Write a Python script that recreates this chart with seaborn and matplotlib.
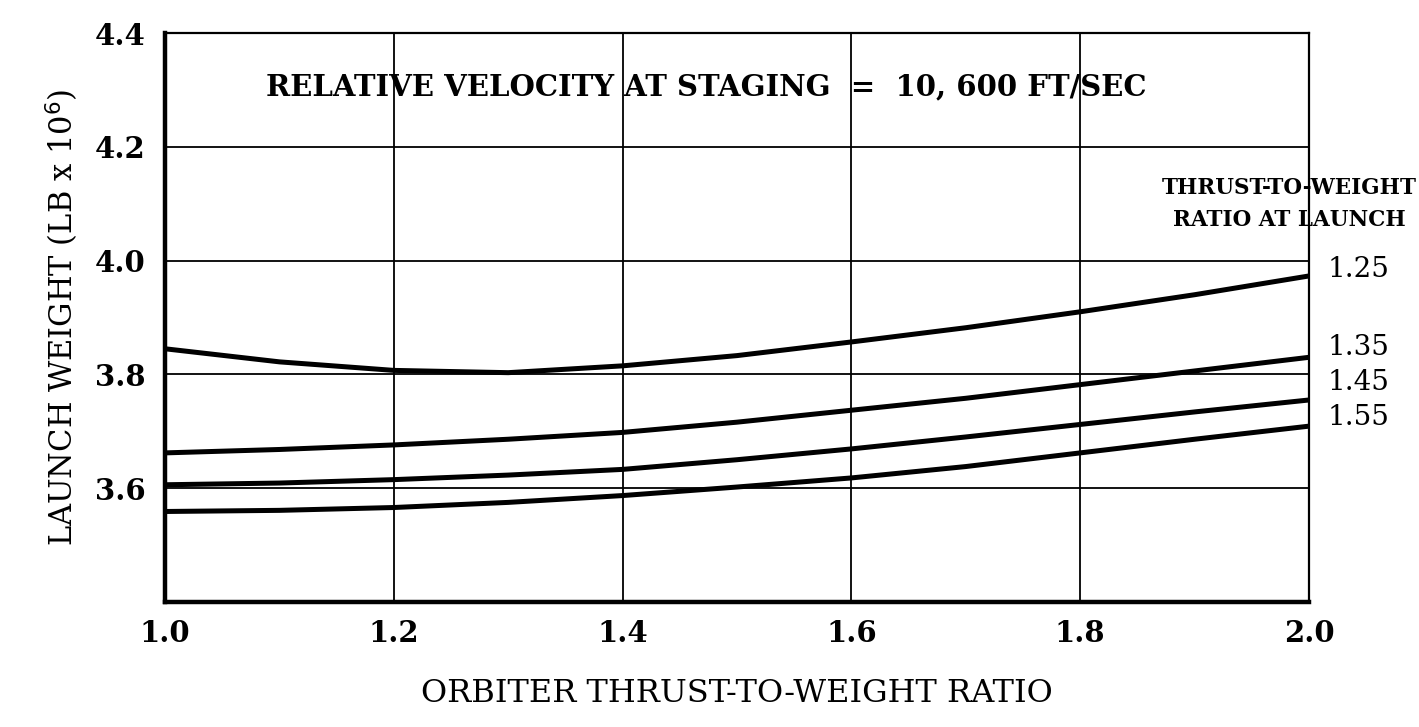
import pandas as pd
import seaborn as sns
import matplotlib
matplotlib.use("Agg")
import matplotlib.pyplot as plt

# Data
orbiter_tw = [1.0, 1.1, 1.2, 1.3, 1.4, 1.5, 1.6, 1.7, 1.8, 1.9, 2.0]
launch_tw = ["1.25", "1.35", "1.45", "1.55"]
weight_125 = [3.845, 3.822, 3.807, 3.803, 3.815, 3.833, 3.857, 3.882, 3.910, 3.940, 3.973]
weight_135 = [3.662, 3.668, 3.676, 3.686, 3.698, 3.716, 3.737, 3.758, 3.782, 3.806, 3.830]
weight_145 = [3.606, 3.609, 3.615, 3.623, 3.633, 3.650, 3.669, 3.690, 3.712, 3.734, 3.755]
weight_155 = [3.559, 3.561, 3.566, 3.575, 3.587, 3.602, 3.618, 3.638, 3.662, 3.686, 3.709]

x_ticks = [1.0, 1.2, 1.4, 1.6, 1.8, 2.0]
y_ticks = [3.6, 3.8, 4.0, 4.2, 4.4]

series = [weight_125, weight_135, weight_145, weight_155]
frames = []
for label, vals in zip(launch_tw, series):
    frames.append(pd.DataFrame({"orbiter": orbiter_tw, "weight": vals, "launch": label}))
df = pd.concat(frames, ignore_index=True)

sns.set_style("white")
plt.rcParams["font.family"] = ["DejaVu Serif"]
plt.rcParams["text.color"] = "black"
plt.rcParams["axes.labelcolor"] = "black"
plt.rcParams["xtick.color"] = "black"
plt.rcParams["ytick.color"] = "black"

fig = plt.figure(figsize=(14.19, 7.27), dpi=100)
ax = fig.add_axes([0.1163, 0.172, 0.8062, 0.7826])

sns.lineplot(
    data=df, x="orbiter", y="weight", hue="launch",
    palette=["black"] * 4, linewidth=3.6, legend=False, ax=ax,
)

ax.set_xlim(1.0, 2.0)
ax.set_ylim(3.4, 4.4)
ax.set_xticks(x_ticks)
ax.set_yticks(y_ticks)
ax.set_xticklabels([f"{t:.1f}" for t in x_ticks], fontsize=21, fontweight="bold")
ax.set_yticklabels([f"{t:.1f}" for t in y_ticks], fontsize=21, fontweight="bold")
ax.tick_params(axis="both", length=0)
ax.tick_params(axis="x", pad=12)
ax.tick_params(axis="y", pad=14)
ax.grid(True, color="black", linewidth=1.3)
ax.set_axisbelow(True)

for side in ["left", "bottom"]:
    ax.spines[side].set_linewidth(3.2)
for side in ["top", "right"]:
    ax.spines[side].set_linewidth(1.6)
for s in ax.spines.values():
    s.set_color("black")

ax.set_xlabel("ORBITER THRUST-TO-WEIGHT RATIO", fontsize=23, labelpad=22)
ax.set_ylabel("LAUNCH WEIGHT (LB x 10$^6$)", fontsize=22, labelpad=10)

ax.text(0.473, 4.305, "RELATIVE VELOCITY AT STAGING  =  10, 600 FT/SEC",
        transform=ax.get_yaxis_transform(), ha="center", va="center",
        fontsize=21, fontweight="bold")

ax.text(1.983, 4.10, "THRUST-TO-WEIGHT\nRATIO AT LAUNCH",
        ha="center", va="center", fontsize=15.5, fontweight="bold",
        linespacing=1.6, clip_on=False)

label_y = [3.985, 3.848, 3.786, 3.725]
for label, y in zip(launch_tw, label_y):
    ax.text(2.016, y, label, ha="left", va="center", fontsize=20, clip_on=False)

fig.savefig("out.png", dpi=100)
